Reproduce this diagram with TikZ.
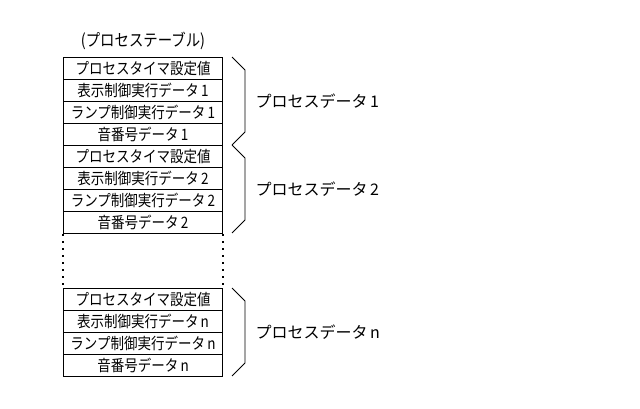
\documentclass[tikz,border=0pt]{standalone}
\usepackage{fontspec}
\usepackage{graphicx}
\setmainfont{Noto Sans CJK JP}
\usetikzlibrary{positioning}
\newcommand{\narrowtext}[1]{\scalebox{0.9}[1.05]{#1}}
\tikzset{
  rowbox/.style={draw, line width=1pt, minimum width=159pt, minimum height=22pt,
    inner sep=0pt, font=\fontsize{15}{15}\selectfont, anchor=north west},
  bracket/.style={line width=0.8pt},
  datalabel/.style={font=\fontsize{16}{16}\selectfont, anchor=west}
}
\begin{document}
\begin{tikzpicture}[x=1pt,y=-1pt]
    \useasboundingbox (0,0) rectangle (640,409);

    % title
    \node[font=\fontsize{16}{16}\selectfont] (title) at (143,41) {\narrowtext{(プロセステーブル)}};

    % three blocks of rows
    \foreach \blk/\top/\idx in {1/57/1, 2/145/2, 3/288/n} {
      \node[rowbox] (r\blk a) at (63,\top) {\narrowtext{プロセスタイマ設定値}};
      \node[rowbox] (r\blk b) at (63,\top+22) {\narrowtext{表示制御実行データ\,\idx}};
      \node[rowbox] (r\blk c) at (63,\top+44) {\narrowtext{ランプ制御実行データ\,\idx}};
      \node[rowbox] (r\blk d) at (63,\top+66) {\narrowtext{音番号データ\,\idx}};
      % bracket
      \draw[bracket] (232,\top) -- (245,\top+13) -- (245,\top+75) -- (232,\top+88);
      \node[datalabel] (lab\blk) at (252,\top+44) {プロセスデータ\,\idx};
    }

    % dotted continuation
    \draw[dash pattern=on 2pt off 5pt, line width=1.5pt] (r2d.south west) -- ++(0,52);
    \draw[dash pattern=on 2pt off 5pt, line width=1.5pt] (r2d.south east) -- ++(0,52);
\end{tikzpicture}
\end{document}
